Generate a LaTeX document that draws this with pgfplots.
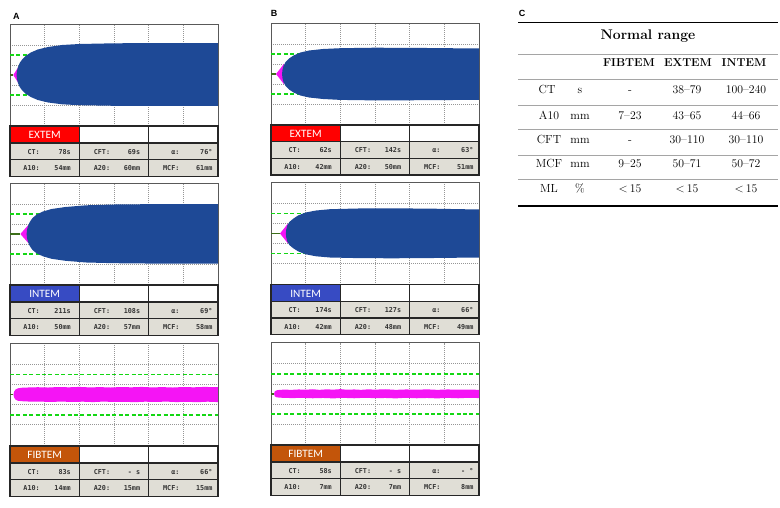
\documentclass[border=0pt]{standalone}
\usepackage{fontspec}
\usepackage{pgfplots}
\pgfplotsset{compat=1.18}
\newfontfamily\labfont{Carlito}
\newfontfamily\monofont{DejaVu Sans Mono}
\newfontfamily\panelfont{Liberation Sans}
\definecolor{traceblue}{RGB}{30,73,150}
\definecolor{tracepink}{RGB}{245,20,245}
\definecolor{dgreen}{RGB}{20,215,20}
\definecolor{cgreen}{RGB}{60,110,25}
\definecolor{extemc}{RGB}{255,0,0}
\definecolor{intemc}{RGB}{55,75,195}
\definecolor{fibtemc}{RGB}{195,85,10}
\definecolor{cellgray}{RGB}{224,222,214}
\definecolor{gridgray}{RGB}{150,150,150}
\definecolor{rulegray}{RGB}{165,165,165}

\pgfplotsset{rotem/.style={
  width=208bp, scale only axis, anchor=north west,
  xmin=0, xmax=60, ymin=-51, ymax=51,
  xtick={10,20,30,40,50}, ytick={-30,-10,10,30},
  xticklabels={}, yticklabels={}, major tick length=0pt,
  xmajorgrids, ymajorgrids,
  major grid style={gridgray, dash pattern=on 1bp off 1bp, line width=0.6bp},
  axis line style={draw=black!65, line width=0.9bp},
},
dashg/.style={dgreen, dash pattern=on 4bp off 2.4bp, line width=1.8bp},
cline/.style={cgreen, line width=1.4bp},
}

\newcommand{\infofont}{\monofont\bfseries\fontsize{6.8}{8}\selectfont\color{black!80}}
\newcommand{\labelrow}[4]{%
  \fill[#3] (#1,#2) rectangle ++(69.33,17);
  \node[text=white, font=\labfont\fontsize{11.3}{12}\selectfont, inner sep=0pt, anchor=base] at (#1+34.67,#2+12.8) {#4};
  \draw[black!85, line width=1.4bp] (#1,#2) rectangle ++(208,17) (#1+69.33,#2) -- ++(0,17) (#1+138.67,#2) -- ++(0,17);
}
\newcommand{\inforow}[8]{%
  \fill[cellgray] (#1,#2) rectangle ++(208,16.7);
  \draw[black!85, line width=1.4bp] (#1,#2) rectangle ++(208,16.7) (#1+69.33,#2) -- ++(0,16.7) (#1+138.67,#2) -- ++(0,16.7);
  \node[anchor=base east, inner sep=0pt, font=\infofont] at (#1+30,#2+11.2) {#3};
  \node[anchor=base east, inner sep=0pt, font=\infofont] at (#1+61,#2+11.2) {#4};
  \node[anchor=base east, inner sep=0pt, font=\infofont] at (#1+69.33+31,#2+11.2) {#5};
  \node[anchor=base east, inner sep=0pt, font=\infofont] at (#1+69.33+61,#2+11.2) {#6};
  \node[anchor=base east, inner sep=0pt, font=\infofont] at (#1+138.67+31,#2+11.2) {#7};
  \node[anchor=base east, inner sep=0pt, font=\infofont] at (#1+138.67+64,#2+11.2) {#8};
}

\begin{document}
\begin{tikzpicture}
\path[use as bounding box] (0,0) rectangle (780bp,-508bp);

% ---------------- A: EXTEM
\begin{axis}[rotem, height=102bp, at={(10bp,-24bp)}]
\addplot[dashg] coordinates {(0,20) (60,20)};
\addplot[dashg] coordinates {(0,-20) (60,-20)};
\addplot[cline] coordinates {(0,0) (1.0,0)};
\addplot[fill=tracepink, draw=none] coordinates {(0.95,0) (2.6,9) (2.6,-9)};
\addplot[fill=traceblue, draw=none] coordinates {
(1.9,0) (2.0,4) (2.3,8) (2.8,12) (3.5,15.5) (4.5,19) (6,22.5) (8,25.5) (11,28) (15,30) (20,31) (30,31.7) (45,32) (60,32)
(60,-31) (45,-31) (30,-30.8) (20,-30.2) (15,-29.3) (11,-27.5) (8,-25) (6,-22) (4.5,-18.7) (3.5,-15.3) (2.8,-12) (2.3,-8) (2.0,-4)};
\end{axis}

% ---------------- A: INTEM
\begin{axis}[rotem, height=102bp, at={(10bp,-183bp)}]
\addplot[dashg] coordinates {(0,20) (60,20)};
\addplot[dashg] coordinates {(0,-20) (60,-20)};
\addplot[cline] coordinates {(0,0) (3.0,0)};
\addplot[fill=tracepink, draw=none] coordinates {(3.0,0) (5.4,9.5) (5.4,-9.5)};
\addplot[fill=traceblue, draw=none] coordinates {
(4.8,0) (4.9,4) (5.2,8) (5.7,12) (6.5,16) (7.7,19.5) (9.5,22.5) (12,25) (16,27) (22,28.7) (30,29.5) (45,30) (60,30)
(60,-29.5) (45,-29.7) (30,-29.2) (22,-28.5) (16,-26.8) (12,-24.8) (9.5,-22.3) (7.7,-19.3) (6.5,-16) (5.7,-12) (5.2,-8) (4.9,-4)};
\end{axis}

% ---------------- A: FIBTEM
\begin{axis}[rotem, height=102.5bp, at={(10bp,-343.3bp)}]
\addplot[dashg] coordinates {(0,20) (60,20)};
\addplot[dashg] coordinates {(0,-20) (60,-20)};
\addplot[cline] coordinates {(0,0) (1.0,0)};
\addplot[fill=tracepink, draw=none] coordinates {
(1.0,0) (1.2,3) (1.6,5) (2.3,6.2) (3.5,6.8) (5,7.0) (8,7.3) (11,7.0) (14,7.5) (17,7.2) (20,7.6) (23,7.1) (26,7.4) (29,7.0) (32,7.5) (35,7.2) (38,7.6) (41,7.1) (44,7.4) (47,7.0) (50,7.5) (53,7.2) (56,7.6) (60,7.3)
(60,-7.5) (57,-7.1) (54,-7.6) (51,-7.2) (48,-7.5) (45,-7.0) (42,-7.4) (39,-7.1) (36,-7.6) (33,-7.2) (30,-7.4) (27,-7.0) (24,-7.5) (21,-7.1) (18,-7.4) (15,-7.0) (12,-7.3) (9,-7.1) (6,-7.0) (4,-6.8) (2.3,-6.2) (1.6,-5) (1.2,-3)};
\end{axis}

% ---------------- B: EXTEM
\begin{axis}[rotem, height=102bp, at={(271bp,-23bp)}]
\addplot[dashg] coordinates {(0,20) (60,20)};
\addplot[dashg] coordinates {(0,-20) (60,-20)};
\addplot[cline] coordinates {(0,0) (1.45,0)};
\addplot[fill=tracepink, draw=none] coordinates {(1.45,0) (3.7,10) (3.7,-10)};
\addplot[fill=traceblue, draw=none] coordinates {
(3.2,0) (3.3,4) (3.6,8) (4.2,12) (5.2,15.5) (6.5,18.5) (8.5,21.5) (11,23.5) (15,25) (20,25.8) (30,26.3) (45,26) (60,25.5)
(60,-25.8) (45,-26.2) (30,-26.4) (20,-25.9) (15,-25) (11,-23.5) (8.5,-21.5) (6.5,-18.5) (5.2,-15.5) (4.2,-12) (3.6,-8) (3.3,-4)};
\end{axis}

% ---------------- B: INTEM
\begin{axis}[rotem, height=102bp, at={(271bp,-182.5bp)}]
\addplot[dashg] coordinates {(0,20) (60,20)};
\addplot[dashg] coordinates {(0,-20) (60,-20)};
\addplot[cline] coordinates {(0,0) (2.6,0)};
\addplot[fill=tracepink, draw=none] coordinates {(2.6,0) (4.9,10) (4.9,-10)};
\addplot[fill=traceblue, draw=none] coordinates {
(4.3,0) (4.4,4) (4.7,8) (5.3,11.5) (6.3,14.5) (7.8,18) (10,21) (13,23) (17,24.3) (25,25) (35,25.2) (47,24.8) (60,24)
(60,-24) (47,-24.5) (35,-24.8) (25,-24.6) (17,-24) (13,-22.8) (10,-20.8) (7.8,-17.8) (6.3,-14.5) (5.3,-11.5) (4.7,-8) (4.4,-4)};
\end{axis}

% ---------------- B: FIBTEM
\begin{axis}[rotem, height=102.3bp, at={(271bp,-342.7bp)}]
\addplot[dashg] coordinates {(0,20) (60,20)};
\addplot[dashg] coordinates {(0,-20) (60,-20)};
\addplot[cline] coordinates {(0,0) (0.9,0)};
\addplot[fill=tracepink, draw=none] coordinates {
(0.9,0) (1.1,2.5) (1.6,3.5) (2.5,4.0) (4,4.2) (6,4.0) (8,4.4) (10,4.1) (12,4.6) (14,4.0) (16,4.5) (18,4.2) (20,4.7) (22,4.1) (24,4.4) (26,4.0) (28,4.5) (30,4.2) (33,4.6) (36,4.0) (39,4.4) (42,4.1) (45,4.5) (48,4.0) (51,4.4) (54,4.1) (57,4.3) (60,4.0)
(60,-4.2) (57,-3.9) (54,-4.4) (51,-4.0) (48,-4.5) (45,-4.1) (42,-4.4) (39,-3.9) (36,-4.5) (33,-4.1) (30,-4.3) (27,-3.9) (24,-4.4) (21,-4.0) (18,-4.5) (15,-4.1) (12,-4.4) (9,-4.0) (6,-4.2) (4,-4.0) (2.5,-3.8) (1.6,-3.4) (1.1,-2.5)};
\end{axis}

\begin{scope}[x=1bp, y=-1bp]
% panel labels
\node[font=\panelfont\bfseries\fontsize{9}{10}\selectfont, anchor=base, inner sep=0pt] at (16.3,19) {A};
\node[font=\panelfont\bfseries\fontsize{9}{10}\selectfont, anchor=base, inner sep=0pt] at (274,16.7) {B};
\node[font=\panelfont\bfseries\fontsize{9}{10}\selectfont, anchor=base, inner sep=0pt] at (522,16.7) {C};

% A tables
\labelrow{10}{126}{extemc}{EXTEM}
\inforow{10}{143}{CT:}{78s}{CFT:}{69s}{α:}{76°}
\inforow{10}{159.7}{A10:}{54mm}{A20:}{60mm}{MCF:}{61mm}
\labelrow{10}{285}{intemc}{INTEM}
\inforow{10}{302}{CT:}{211s}{CFT:}{108s}{α:}{69°}
\inforow{10}{318.7}{A10:}{50mm}{A20:}{57mm}{MCF:}{58mm}
\labelrow{10}{445.8}{fibtemc}{FIBTEM}
\inforow{10}{462.8}{CT:}{83s}{CFT:}{- s}{α:}{66°}
\inforow{10}{479.5}{A10:}{14mm}{A20:}{15mm}{MCF:}{15mm}

% B tables
\labelrow{271}{125}{extemc}{EXTEM}
\inforow{271}{141.7}{CT:}{62s}{CFT:}{142s}{α:}{63°}
\inforow{271}{158.3}{A10:}{42mm}{A20:}{50mm}{MCF:}{51mm}
\labelrow{271}{284.5}{intemc}{INTEM}
\inforow{271}{301.3}{CT:}{174s}{CFT:}{127s}{α:}{66°}
\inforow{271}{318}{A10:}{42mm}{A20:}{48mm}{MCF:}{49mm}
\labelrow{271}{445}{fibtemc}{FIBTEM}
\inforow{271}{462}{CT:}{58s}{CFT:}{- s}{α:}{- °}
\inforow{271}{478.7}{A10:}{7mm}{A20:}{7mm}{MCF:}{8mm}

% C table
\draw[black, line width=1.1bp] (518,22.3) -- (778,22.3);
\node[font=\bfseries\fontsize{14}{16}\selectfont, anchor=base, inner sep=0pt] at (648,39.7) {Normal range};
\draw[rulegray, line width=0.7bp] (518,54) -- (778,54);
\begin{scope}[every node/.style={anchor=base, inner sep=0pt, font=\fontsize{11.8}{13}\selectfont}]
\node[font=\bfseries\fontsize{11.5}{13}\selectfont] at (629,66.7) {FIBTEM};
\node[font=\bfseries\fontsize{11.5}{13}\selectfont] at (688,66.7) {EXTEM};
\node[font=\bfseries\fontsize{11.5}{13}\selectfont] at (744,66.7) {INTEM};
\draw[rulegray, line width=0.7bp] (518,79) -- (778,79);
\node at (547,93.3) {CT}; \node at (580,93.3) {s}; \node at (630,93.3) {-}; \node at (687,93.3) {38–79}; \node at (746,93.3) {100–240};
\draw[rulegray, line width=0.7bp] (518,105) -- (778,105);
\node at (549,119) {A10}; \node at (580,119) {mm}; \node at (630,119) {7–23}; \node at (687,119) {43–65}; \node at (746,119) {44–66};
\draw[rulegray, line width=0.7bp] (518,129.3) -- (778,129.3);
\node at (549,143.3) {CFT}; \node at (580,143.3) {mm}; \node at (630,143.3) {-}; \node at (687,143.3) {30–110}; \node at (746,143.3) {30–110};
\draw[rulegray, line width=0.7bp] (518,155) -- (778,155);
\node at (549,167.7) {MCF}; \node at (580,167.7) {mm}; \node at (630,167.7) {9–25}; \node at (687,167.7) {50–71}; \node at (746,167.7) {50–72};
\draw[rulegray, line width=0.7bp] (518,179.3) -- (778,179.3);
\node at (549,192.7) {ML}; \node at (580,192.7) {\%}; \node at (630,192.7) {$<$\,15}; \node at (687,192.7) {$<$\,15}; \node at (746,192.7) {$<$\,15};
\end{scope}
\draw[black, line width=1.1bp] (518,206) -- (778,206);
\end{scope}
\end{tikzpicture}
\end{document}
